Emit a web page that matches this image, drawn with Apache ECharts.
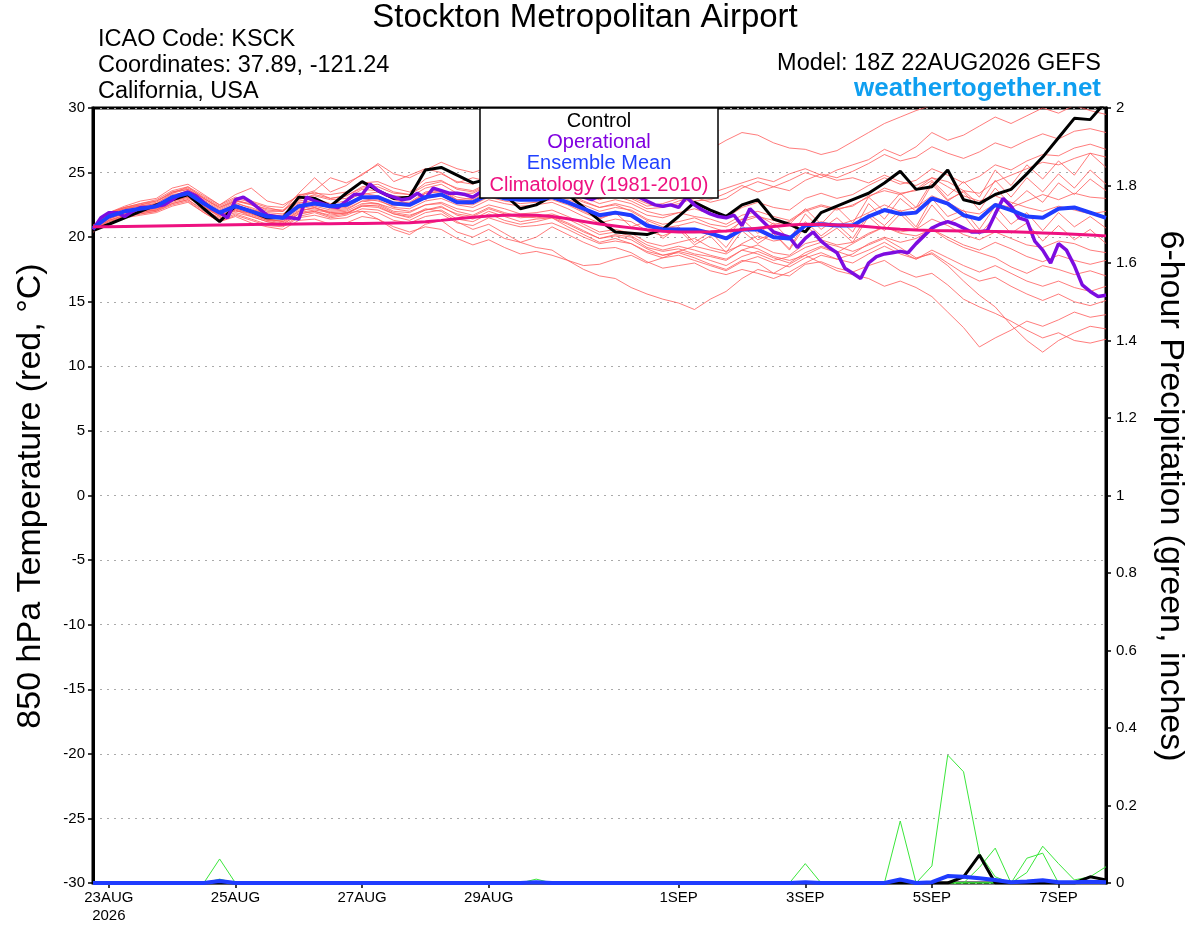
<!DOCTYPE html>
<html>
<head>
<meta charset="utf-8">
<title>Stockton Metropolitan Airport</title>
<script src="https://cdn.jsdelivr.net/npm/echarts@6/dist/echarts.min.js"></script>
<style>
  html, body { margin: 0; padding: 0; background: #fff; }
  #chart { width: 1200px; height: 927px; }
</style>
</head>
<body>
<div id="chart"></div>
<script>
// time steps: 22AUG 18Z then every 6h up to 7SEP 18Z (65 steps)
var days = ['23AUG', '24AUG', '25AUG', '26AUG', '27AUG', '28AUG', '29AUG', '30AUG',
            '31AUG', '1SEP', '2SEP', '3SEP', '4SEP', '5SEP', '6SEP', '7SEP'];
var hours = ['00Z', '06Z', '12Z', '18Z'];
var steps = ['22AUG 18Z'];
days.forEach(function (d) { hours.forEach(function (h) { steps.push(d + ' ' + h); }); });

// x axis labels
var tickSteps = ['23AUG 00Z', '25AUG 00Z', '27AUG 00Z', '29AUG 00Z', '1SEP 00Z', '3SEP 00Z', '5SEP 00Z', '7SEP 00Z'];
var tickText = ['23AUG\n2026', '25AUG', '27AUG', '29AUG', '1SEP', '3SEP', '5SEP', '7SEP'];

// 850 hPa temperature, 6-hourly (deg C)
var control = [20.5,
  21.0, 21.5, 22.0, 22.5,  22.9, 23.3, 22.2, 21.2,  22.4, 22.0, 21.5, 21.5,  23.1, 23.0, 22.4, 23.4,
  24.3, 23.6, 23.0, 23.1,  25.2, 25.4, 24.8, 24.2,  24.5, 23.3, 22.2, 22.5,  23.2, 23.3, 22.3, 21.3,
  20.4, 20.3, 20.2, 20.6,  21.6, 22.7, 22.1, 21.6,  22.5, 22.9, 21.4, 21.0,  20.4, 21.9, 22.4, 22.9,
  23.4, 24.2, 25.1, 23.7,  23.9, 25.2, 22.9, 22.6,  23.3, 23.7, 24.9, 26.2,  27.7, 29.2, 29.1, 30.5];

var ensMean = [20.7,
  21.6, 22.0, 22.2, 22.4,  23.1, 23.4, 22.6, 21.9,  22.4, 22.0, 21.6, 21.5,  22.4, 22.6, 22.4, 22.5,
  23.1, 23.1, 22.6, 22.5,  23.1, 23.3, 22.7, 22.7,  23.3, 23.0, 22.9, 22.9,  23.1, 22.7, 22.2, 21.7,
  21.9, 21.7, 20.9, 20.6,  20.6, 20.6, 20.3, 19.9,  20.6, 20.6, 20.0, 19.9,  20.9, 21.0, 20.9, 20.9,
  21.6, 22.1, 21.8, 21.9,  23.0, 22.6, 21.7, 21.4,  22.5, 22.1, 21.6, 21.5,  22.2, 22.3, 21.9, 21.5];

var climatology = [20.8,
  20.8, 20.82, 20.84, 20.86,  20.88, 20.9, 20.92, 20.94,  20.96, 20.98, 21.0, 21.0,  21.02, 21.03, 21.04, 21.05,
  21.06, 21.08, 21.1, 21.12,  21.2, 21.3, 21.42, 21.54,  21.63, 21.7, 21.72, 21.7,  21.6, 21.42, 21.22, 21.02,
  20.87, 20.72, 20.58, 20.45,  20.4, 20.4, 20.42, 20.48,  20.58, 20.7, 20.82, 20.94,  21.0, 20.98, 20.94, 20.9,
  20.8, 20.7, 20.62, 20.56,  20.52, 20.5, 20.48, 20.46,  20.44, 20.42, 20.38, 20.33,  20.28, 20.23, 20.17, 20.1];

// operational run, 3-hourly (129 steps)
var operational = [20.6,
  21.5, 21.9, 21.9, 21.6, 22.0, 22.3, 22.3, 22.4,  22.5, 22.9, 23.3, 23.5, 23.2, 22.7, 22.2, 21.9,
  21.5, 22.9, 23.1, 22.7, 22.2, 21.7, 21.6, 21.5,  21.5, 21.4, 23.1, 22.8, 22.6, 22.4, 22.3, 22.8,
  23.3, 23.3, 24.1, 23.6, 23.3, 23.1, 22.9, 23.0,  23.4, 23.0, 23.8, 23.6, 23.4, 23.4, 23.3, 23.1,
  23.5, 23.8, 24.0, 24.0, 23.8, 23.7, 23.9, 24.0,  23.8, 23.7, 23.6, 23.5, 23.3, 23.1, 22.9, 23.2,
  23.5, 23.6, 23.5, 23.3, 23.1, 22.8, 22.5, 22.4,  22.5, 22.3, 23.1, 22.5, 22.1, 21.8, 21.6, 21.5,
  21.7, 20.9, 22.2, 21.6, 21.0, 20.4, 20.2, 20.0,  19.2, 19.9, 20.4, 19.7, 19.2, 18.8, 17.6, 17.2,
  16.8, 18.0, 18.5, 18.7, 18.8, 18.9, 18.8, 19.5,  20.1, 20.7, 21.0, 21.2, 21.0, 20.7, 20.4, 20.4,
  20.5, 21.8, 23.0, 22.4, 21.5, 21.3, 19.7, 19.0,  18.0, 19.5, 19.0, 17.8, 16.3, 15.8, 15.4, 15.5];

// ensemble members, 6-hourly
var mem01 = [20.9, 21.8,22.3,22.6,22.9, 23.6,23.9,23.0,22.3, 22.8,22.6,22.1,22.0, 22.9,23.3,23.0,23.2, 23.8,23.9,23.4,23.3, 24.0,24.3,23.8,23.6, 24.2,24.0,23.6,23.9, 24.3,23.8,23.2,22.9, 23.3,23.0,22.4,22.6, 23.0,22.8,22.9,23.4, 24.0,23.5,23.9,24.4, 25.0,24.6,25.2,25.6, 26.0,26.8,26.3,27.0, 28.1,27.5,27.9,28.6, 29.3,28.8,29.4,30.0, 29.6,30.2,29.8,29.5];
var mem02 = [20.5, 21.3,21.7,21.9,22.1, 22.8,23.1,22.2,21.4, 22.1,21.6,21.2,21.0, 21.8,22.0,21.6,21.8, 22.4,22.3,21.8,21.5, 22.1,22.4,21.7,21.4, 22.0,21.6,21.2,21.4, 21.5,20.8,20.2,19.6, 19.9,19.5,18.9,18.6, 18.8,18.4,17.9,17.5, 18.2,18.0,17.2,17.0, 17.9,18.1,17.6,17.3, 17.8,18.2,17.4,16.9, 17.2,16.3,15.2,14.6, 14.1,13.5,12.8,12.2, 12.6,12.0,11.8,12.1];
var mem03 = [20.6, 21.5,22.1,22.3,22.3, 23.0,23.5,22.8,22.0, 22.6,22.3,21.8,21.6, 22.6,22.9,22.5,22.4, 23.3,23.5,22.9,22.6, 23.4,23.6,23.1,22.9, 23.5,23.3,23.0,23.2, 23.4,22.9,22.5,22.0, 22.3,22.1,21.4,21.0, 21.2,21.5,21.0,20.8, 21.4,21.7,21.0,21.2, 22.0,22.4,22.1,22.5, 23.1,23.8,23.4,23.6, 24.4,23.2,24.3,23.1, 25.2,24.0,25.6,24.5, 25.9,24.8,26.5,25.4];
var mem04 = [20.7, 21.7,22.0,22.1,22.2, 22.9,23.2,22.4,21.6, 22.2,21.8,21.4,21.2, 22.0,22.3,21.9,21.8, 22.5,22.4,21.8,21.6, 22.2,22.0,21.2,20.6, 21.0,20.3,19.6,19.2, 19.0,18.2,17.5,17.0, 16.8,16.1,15.6,15.2, 14.9,14.4,15.2,15.8, 16.8,17.5,17.2,17.9, 18.6,19.2,18.8,19.5, 20.2,20.8,20.3,20.1, 20.6,19.8,19.2,18.8, 18.4,17.7,17.2,17.8, 17.5,17.1,17.4,17.0];
var mem05 = [20.8, 21.9,22.4,22.8,23.0, 23.8,24.1,23.3,22.5, 23.3,23.8,22.8,22.5, 23.2,23.6,24.6,24.2, 24.8,25.7,24.9,24.6, 25.2,25.8,25.3,25.0, 25.4,25.6,25.3,25.5, 25.8,26.0,25.7,25.9, 26.2,25.8,25.5,25.7, 26.0,26.2,26.8,27.5, 28.1,27.9,27.3,26.9, 26.8,26.4,26.7,27.4, 28.1,28.8,29.3,29.8, 30.2,30.5,30.3,30.6, 30.4,30.8,30.5,30.9, 30.6,30.8,30.5,30.9];
var mem06 = [20.4, 21.2,21.6,21.8,22.0, 22.6,22.9,22.0,21.3, 21.8,21.4,21.0,20.9, 21.6,21.9,21.5,21.7, 22.2,22.1,21.6,21.3, 21.9,22.1,21.4,21.2, 21.8,21.3,21.0,21.2, 21.5,21.0,20.4,19.9, 20.2,20.0,19.2,18.9, 19.1,18.7,18.5,18.2, 19.0,19.4,18.8,18.6, 19.5,19.8,19.4,19.6, 20.3,20.8,20.4,20.6, 21.4,20.9,20.2,19.8, 20.4,19.9,19.4,19.2, 19.7,19.5,19.0,18.8];
var mem07 = [20.6, 21.4,21.9,22.1,22.5, 23.2,23.6,22.9,22.1, 22.7,22.2,21.7,21.7, 22.8,23.0,22.6,22.8, 23.4,23.2,22.7,22.7, 23.5,23.7,22.9,23.0, 23.6,23.1,22.9,22.8, 23.0,22.6,22.0,21.5, 21.8,21.6,21.0,20.7, 20.9,21.2,20.8,20.4, 21.2,21.6,21.3,21.0, 22.2,21.0,22.3,21.1, 23.1,22.0,23.4,22.3, 24.3,22.9,23.5,22.1, 23.8,22.5,23.6,22.7, 24.2,23.3,24.5,23.6];
var mem08 = [20.5, 21.5,21.8,22.0,22.3, 22.9,23.2,22.3,21.7, 22.0,21.9,21.3,21.3, 22.1,22.2,22.0,22.1, 22.8,22.6,22.2,22.0, 22.5,22.7,22.2,22.0, 22.5,22.2,21.8,21.9, 22.1,21.6,21.0,20.4, 20.6,20.3,19.6,19.3, 19.6,19.9,19.2,18.9, 19.4,19.1,18.5,18.2, 18.6,18.0,17.4,17.1, 16.8,16.2,16.6,16.1, 15.4,14.2,13.0,11.5, 12.2,12.8,13.5,13.1, 13.6,14.2,13.8,14.0];
var mem09 = [20.9, 21.9,22.3,22.5,22.7, 23.5,23.8,23.1,22.4, 23.0,22.7,22.3,22.0, 23.1,23.5,23.0,23.2, 23.9,24.1,23.5,23.3, 24.2,24.4,23.7,23.5, 24.1,23.8,23.4,23.6, 23.8,23.4,22.8,22.3, 22.6,22.3,21.7,21.5, 21.9,22.2,21.8,21.5, 22.3,22.7,22.3,22.1, 23.0,23.4,23.0,23.3, 24.0,24.6,24.1,24.4, 25.3,24.8,24.2,24.7, 25.6,25.2,25.9,26.4, 26.3,26.9,27.2,26.8];
var mem10 = [20.7, 21.6,22.0,22.2,22.4, 23.0,23.3,22.6,21.8, 22.3,22.0,21.5,21.5, 22.3,22.5,22.3,22.4, 23.0,23.0,22.5,22.4, 23.0,23.2,22.6,22.5, 23.1,22.8,22.6,22.7, 22.9,22.5,21.9,21.4, 21.9,20.8,21.2,19.9, 20.8,19.6,20.4,19.2, 20.9,19.8,20.3,19.1, 21.2,20.1,21.0,19.9, 21.8,20.9,22.1,20.8, 23.0,21.6,22.1,20.6, 22.4,21.0,21.9,20.5, 21.9,20.8,21.6,20.7];
var mem11 = [20.4, 21.2,21.5,21.7,21.9, 22.4,22.7,21.9,21.2, 21.6,21.1,20.8,20.6, 21.3,21.4,21.0,21.1, 21.6,21.4,20.8,20.4, 20.8,20.6,19.9,19.4, 19.8,19.2,18.7,18.9, 18.6,18.2,17.8,17.9, 18.3,18.6,18.0,18.4, 18.9,19.3,19.0,18.7, 19.5,20.1,19.7,19.9, 20.8,21.2,20.9,21.3, 21.9,22.5,22.0,22.3, 23.2,22.7,22.0,21.8, 22.6,22.3,22.8,23.3, 22.9,23.4,23.1,23.0];
var mem12 = [20.8, 21.7,22.2,22.4,22.6, 23.3,23.5,22.7,22.0, 22.5,22.1,21.9,21.8, 22.7,22.7,22.2,22.3, 23.0,22.8,22.4,22.6, 23.4,23.5,22.9,22.8, 23.4,23.2,23.1,23.3, 23.6,23.2,22.7,22.3, 22.5,22.0,21.3,20.8, 20.7,20.5,20.2,19.9, 21.4,20.3,21.1,19.8, 21.8,20.6,21.5,20.4, 22.6,21.4,23.0,22.0, 24.1,22.8,23.6,22.5, 24.4,23.1,24.6,23.5, 24.9,23.8,25.2,24.1];
var mem13 = [20.6, 21.5,21.9,22.0,22.2, 22.8,23.1,22.3,21.6, 22.1,21.7,21.3,21.1, 21.9,22.1,21.9,22.0, 22.6,22.6,22.0,21.9, 22.5,22.6,22.0,21.7, 22.3,21.9,21.6,21.5, 21.6,21.1,20.5,19.9, 20.1,19.8,19.1,18.6, 18.9,18.6,18.2,17.8, 18.5,18.9,18.4,18.0, 18.8,19.3,18.9,18.5, 19.0,19.6,18.9,18.3, 18.8,18.0,17.2,16.6, 16.9,16.2,15.6,15.1, 15.6,15.0,14.7,15.1];
var mem14 = [20.7, 21.8,22.2,22.5,22.8, 23.4,23.9,23.2,22.5, 23.1,22.8,22.4,22.3, 23.3,23.4,23.3,23.5, 24.2,24.3,23.8,23.5, 24.5,24.9,24.3,24.1, 24.6,24.4,24.0,24.2, 24.6,24.1,23.5,23.0, 23.2,22.8,22.2,22.3, 22.8,23.1,22.7,23.0, 23.8,24.3,23.9,23.6, 24.4,24.9,24.6,25.1, 25.7,26.4,25.9,26.2, 27.0,26.5,26.1,26.6, 27.3,26.9,27.5,28.0, 27.6,28.2,28.4,28.1];
var mem15 = [20.5, 21.4,21.8,22.0,22.1, 22.7,23.0,22.4,21.7, 22.2,21.8,21.4,21.2, 22.0,22.3,21.8,21.9, 22.0,21.4,20.6,20.2, 21.0,21.3,20.4,20.0, 20.6,19.9,19.6,20.0, 20.8,20.2,19.6,19.1, 19.2,18.8,18.1,17.6, 17.8,18.0,17.4,17.1, 17.5,17.2,16.8,17.3, 18.0,18.6,18.3,18.7, 19.5,20.0,19.6,19.9, 20.6,20.0,19.4,19.0, 19.6,19.1,18.5,18.1, 18.6,18.2,17.9,18.2];
var mem16 = [20.8, 21.9,22.3,22.6,22.8, 23.5,23.7,23.0,22.3, 22.9,22.5,22.2,22.1, 23.0,23.2,22.9,23.0, 23.7,23.6,23.2,23.1, 23.8,24.1,23.4,23.4, 24.0,23.7,23.5,23.7, 24.0,23.6,23.1,22.6, 22.9,22.6,22.0,21.7, 21.9,21.6,21.4,21.0, 21.7,22.0,21.6,21.3, 22.1,22.5,22.2,22.4, 23.2,23.6,23.3,23.7, 24.6,24.3,23.6,23.4, 24.3,24.8,25.3,25.8, 25.6,26.1,26.5,26.2];
var mem17 = [20.5, 21.3,21.7,21.9,22.1, 22.6,22.9,22.1,21.5, 21.9,21.6,21.2,21.0, 21.8,22.0,21.7,21.9, 22.4,22.5,21.9,21.7, 22.1,22.3,21.8,21.6, 22.2,21.8,21.5,21.6, 21.8,21.4,20.8,20.2, 20.4,20.1,19.4,19.0, 19.3,19.0,18.6,18.3, 19.0,18.7,18.2,18.5, 19.2,19.6,19.3,18.9, 19.4,19.9,19.2,18.4, 18.7,17.8,16.6,15.5, 14.6,13.2,12.0,11.1, 12.0,12.6,13.1,12.9];
var mem18 = [20.6, 21.6,22.0,22.1,22.3, 23.0,23.4,22.6,21.9, 22.4,22.1,21.6,21.4, 22.2,22.4,22.1,22.2, 22.8,22.9,22.3,22.2, 22.8,23.0,22.5,22.3, 22.9,22.6,22.4,22.5, 22.7,22.2,21.6,21.1, 21.4,21.2,20.5,20.1, 20.6,19.4,20.1,18.8, 20.5,19.5,20.3,19.0, 20.9,19.9,20.7,19.6, 21.6,20.5,21.8,20.6, 22.5,21.1,21.7,20.2, 21.6,20.3,21.1,19.7, 20.9,19.8,20.6,19.5];
var mem19 = [20.9, 21.8,22.2,22.4,22.6, 23.4,23.7,23.0,22.2, 22.8,22.5,22.0,22.0, 23.4,24.6,23.5,24.0, 24.9,25.6,24.3,24.8, 25.3,25.0,24.2,24.6, 24.3,24.0,23.8,24.0, 24.2,23.9,23.4,23.0, 23.4,23.1,22.6,22.3, 22.6,23.0,23.4,23.8, 24.2,24.6,24.3,24.9, 25.3,24.8,24.4,24.6, 24.2,24.8,24.3,24.0, 24.6,23.9,23.2,22.8, 23.2,22.7,22.3,22.0, 22.4,22.1,21.8,22.0];
var mem20 = [20.4, 21.3,21.6,21.8,22.0, 22.5,22.8,21.9,21.2, 21.7,21.3,20.9,20.8, 21.5,21.7,21.4,21.5, 22.0,21.9,21.3,21.1, 21.6,21.8,21.1,20.9, 21.5,21.1,20.8,20.9, 21.1,20.6,20.0,19.5, 19.7,19.5,18.8,18.4, 18.6,18.2,17.8,17.4, 18.1,18.5,18.0,17.7, 18.4,18.8,18.3,18.0, 18.7,19.3,18.7,18.3, 19.0,18.4,17.8,17.3, 17.8,17.2,16.6,16.2, 16.6,16.1,15.8,16.2];
var members = [mem01, mem02, mem03, mem04, mem05, mem06, mem07, mem08, mem09, mem10,
               mem11, mem12, mem13, mem14, mem15, mem16, mem17, mem18, mem19, mem20];

// 6-hour precipitation (inches), members with rain
var rainA = [0, 0,0,0,0, 0,0,0,0, 0,0,0,0, 0,0,0,0, 0,0,0,0, 0,0,0,0, 0,0,0,0, 0,0,0,0, 0,0,0,0, 0,0,0,0, 0,0,0,0, 0,0,0,0, 0,0,0.16,0, 0.044,0.33,0.287,0.077, 0.016,0,0,0, 0,0,0,0];
var rainB = [0, 0,0,0,0, 0,0,0,0, 0,0,0,0, 0,0,0,0, 0,0,0,0, 0,0,0,0, 0,0,0,0, 0,0,0,0, 0,0,0,0, 0,0,0,0, 0,0,0,0, 0,0,0,0, 0,0,0,0, 0,0,0,0.04, 0.09,0,0.064,0.077, 0,0,0,0];
var rainC = [0, 0,0,0,0, 0,0,0,0, 0,0,0,0, 0,0,0,0, 0,0,0,0, 0,0,0,0, 0,0,0,0, 0,0,0,0, 0,0,0,0, 0,0,0,0, 0,0,0,0, 0,0,0,0, 0,0,0,0, 0,0,0,0, 0,0,0.027,0.095, 0.05,0.008,0.016,0.042];
var rainD = [0, 0,0,0,0, 0,0,0,0.062, 0,0,0,0, 0,0,0,0, 0,0,0,0, 0,0,0,0, 0,0,0,0, 0,0,0,0, 0,0,0,0, 0,0,0,0, 0,0,0,0, 0.05,0,0,0, 0,0,0,0, 0,0,0,0, 0,0,0,0, 0,0,0,0];
var rainE = [0, 0,0,0,0, 0,0,0,0.01, 0,0,0,0, 0,0,0,0, 0,0,0,0, 0,0,0,0, 0,0,0,0.01, 0,0,0,0, 0,0,0,0, 0,0,0,0, 0,0,0,0, 0,0,0,0, 0,0,0,0, 0,0,0,0, 0,0,0,0, 0,0,0,0];
var rainMembers = [rainA, rainB, rainC, rainD, rainE];
var rainControl = [0, 0,0,0,0, 0,0,0,0, 0,0,0,0, 0,0,0,0, 0,0,0,0, 0,0,0,0, 0,0,0,0, 0,0,0,0, 0,0,0,0, 0,0,0,0, 0,0,0,0, 0,0,0,0, 0,0,0,0, 0,0,0.016,0.072, 0,0,0,0, 0,0,0.016,0.008];
var rainMean = [0, 0,0,0,0, 0,0,0,0.005, 0,0,0,0, 0,0,0,0, 0,0,0,0, 0,0,0,0, 0,0,0,0.002, 0,0,0,0, 0,0,0,0, 0,0,0,0, 0,0,0,0, 0.002,0,0,0, 0,0,0.009,0, 0.002,0.018,0.016,0.012, 0.008,0.002,0.004,0.007, 0.002,0.002,0.003,0.002];

var FONT = '"Liberation Sans", Arial, sans-serif';

function pairs(vals, step) {
  return vals.map(function (v, i) { return [i * step, v]; });
}
function line(name, vals, step, color, width, yIdx) {
  return {
    name: name, type: 'line', xAxisIndex: 1, yAxisIndex: yIdx,
    data: pairs(vals, step), showSymbol: false, symbol: 'none',
    silent: true, animation: false,
    lineStyle: { color: color, width: width }
  };
}

var series = [];
members.forEach(function (m, k) { series.push(line('member' + (k + 1), m, 6, '#ff5a5a', 0.8, 0)); });
rainMembers.forEach(function (r, k) { series.push(line('rain' + (k + 1), r, 6, '#3be63b', 1, 1)); });
series.push(line('Control', control, 6, '#000000', 3, 0));
series.push(line('Operational', operational, 3, '#7d0ce0', 3.5, 0));
series.push(line('Ensemble Mean', ensMean, 6, '#1f3cff', 4, 0));
series.push(line('Climatology', climatology, 6, '#ee1180', 3, 0));
series.push(line('Control rain', rainControl, 6, '#000000', 3, 1));
series.push(line('Mean rain', rainMean, 6, '#1f3cff', 4, 1));

function txt(x, y, s, size, opts) {
  opts = opts || {};
  return {
    type: 'text', x: x, y: y, rotation: opts.rotation || 0, z: 100,
    style: {
      text: s, fill: opts.color || '#000',
      font: (opts.bold ? 'bold ' : '') + size + 'px ' + FONT,
      align: opts.align || 'left', verticalAlign: 'middle',
      textAlign: opts.align || 'left', textVerticalAlign: 'middle'
    }
  };
}

var chart = echarts.init(document.getElementById('chart'));
chart.setOption({
  animation: false,
  backgroundColor: '#fff',
  textStyle: { fontFamily: FONT },
  grid: { left: 93, right: 94, top: 108, bottom: 44, show: true, borderColor: '#000', borderWidth: 3, backgroundColor: 'transparent' },
  xAxis: [{
    type: 'category', data: steps, boundaryGap: false, position: 'bottom',
    axisLine: { show: false, onZero: false },
    axisTick: {
      interval: function (i, v) { return tickSteps.indexOf(v) >= 0; },
      length: 5, lineStyle: { color: '#000', width: 1.5 }
    },
    axisLabel: {
      interval: function (i, v) { return tickSteps.indexOf(v) >= 0; },
      formatter: function (v) { return tickText[tickSteps.indexOf(v)]; },
      color: '#000', fontSize: 15, margin: 6, lineHeight: 18, fontFamily: FONT
    },
    splitLine: { show: false }
  }, {
    type: 'value', min: 0, max: 384, show: false
  }],
  yAxis: [{
    type: 'value', min: -30, max: 30, interval: 5, position: 'left',
    axisLine: { show: true, lineStyle: { color: '#000', width: 3 } },
    axisTick: { show: true, length: 5, lineStyle: { color: '#000', width: 1.5 } },
    axisLabel: { color: '#000', fontSize: 15, margin: 8, fontFamily: FONT },
    splitLine: { show: true, lineStyle: { color: '#aaaaaa', width: 1, type: [2, 5] } }
  }, {
    type: 'value', min: 0, max: 2, interval: 0.2, position: 'right',
    axisLine: { show: true, lineStyle: { color: '#000', width: 3 } },
    axisTick: { show: true, length: 5, lineStyle: { color: '#000', width: 1.5 } },
    axisLabel: { color: '#000', fontSize: 15, margin: 10, fontFamily: FONT,
      formatter: function (v) { return String(+v.toFixed(1)); } },
    splitLine: { show: false }
  }],
  graphic: [
    txt(585, 18, 'Stockton Metropolitan Airport', 33, { align: 'center' }),
    txt(98, 40, 'ICAO Code: KSCK', 23.5),
    txt(98, 66, 'Coordinates: 37.89, -121.24', 23.5),
    txt(98, 92, 'California, USA', 23.5),
    txt(1101, 64, 'Model: 18Z 22AUG2026 GEFS', 23.5, { align: 'right' }),
    txt(1101, 89, 'weathertogether.net', 26, { align: 'right', bold: true, color: '#0f9ff0' }),
    txt(31, 496, '850 hPa Temperature (red, \u00b0C)', 34, { align: 'center', rotation: Math.PI / 2 }),
    txt(1170, 496, '6-hour Precipitation (green, inches)', 34, { align: 'center', rotation: -Math.PI / 2 }),
    { type: 'rect', z: 99, shape: { x: 480, y: 108, width: 238, height: 90 },
      style: { fill: '#fff', stroke: '#000', lineWidth: 1.5 } },
    txt(599, 121, 'Control', 20, { align: 'center' }),
    txt(599, 142, 'Operational', 20, { align: 'center', color: '#8000e0' }),
    txt(599, 163, 'Ensemble Mean', 20, { align: 'center', color: '#2040ff' }),
    txt(599, 185, 'Climatology (1981-2010)', 20, { align: 'center', color: '#ee1180' })
  ],
  series: series
});
</script>
</body>
</html>
